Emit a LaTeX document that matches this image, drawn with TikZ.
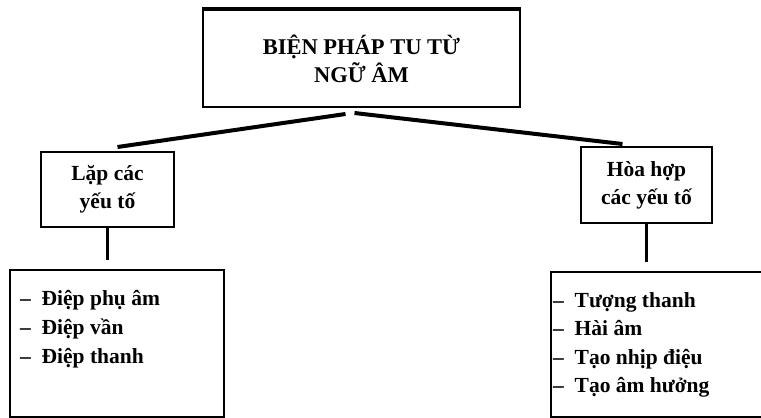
\documentclass[tikz,border=0pt]{standalone}
\usepackage{fontspec}
\setmainfont{Liberation Serif}
\tikzset{
  box/.style={draw, line width=2pt, align=center, inner sep=0pt,
    font=\bfseries\fontsize{21.5}{28}\selectfont},
  link/.style={line width=4pt},
  drop/.style={line width=2.4pt, shorten >=9pt},
  listitem/.style={anchor=base west, inner sep=0pt,
    font=\bfseries\fontsize{21.5}{24}\selectfont}
}
\begin{document}
\begin{tikzpicture}[x=1pt,y=-1pt]
	\useasboundingbox (0,0) rectangle (761,418);

	% boxes
	\node[box, minimum width=317pt, minimum height=97pt, font=\bfseries\fontsize{22.5}{28}\selectfont] (title) at (361.5,58.5) {BIỆN PHÁP TU TỪ\\NGỮ ÂM};
	\draw[line width=3.5pt] (title.north west) -- (title.north east);
	\node[box, minimum width=133pt, minimum height=75pt] (lap) at (107.5,189.5) {Lặp các\\yếu tố};
	\node[box, minimum width=131pt, minimum height=76pt] (hoa) at (646.5,185) {Hòa hợp\\các yếu tố};
	\node[box, minimum width=214pt, minimum height=147pt] (listL) at (117,343.5) {};
	\node[box, minimum width=230pt, minimum height=145pt] (listR) at (666,344.5) {};

	% connectors
	\coordinate (lapTop) at ([xshift=10pt,yshift=4pt]lap.north);
	\coordinate (hoaTop) at ([xshift=-24pt,yshift=2pt]hoa.north);
	\draw[link] ([xshift=-16pt,yshift=-6pt]title.south) -- (lapTop);
	\draw[link] ([xshift=-7pt,yshift=-5pt]title.south) -- (hoaTop);
	\draw[drop] (lap) -- (lap |- listL.north);
	\draw[drop] (hoa) -- (hoa |- listR.north);

	% lists
	\foreach \txt [count=\i] in {Điệp phụ âm, Điệp vần, Điệp thanh}
		\node[listitem] (lapItem\i) at (20, 276+29*\i) {–\enspace\txt};
	\foreach \txt [count=\i] in {Tượng thanh, Hài âm, Tạo nhịp điệu, Tạo âm hưởng}
		\node[listitem] (hoaItem\i) at (553, 278.5+28.5*\i) {–\enspace\txt};
\end{tikzpicture}
\end{document}
